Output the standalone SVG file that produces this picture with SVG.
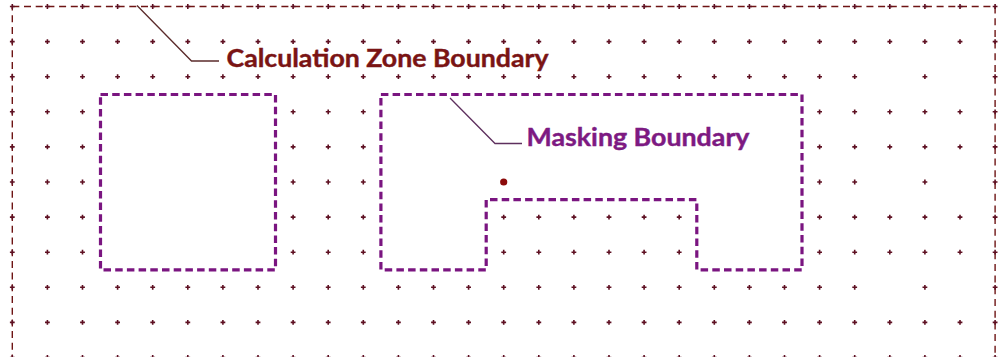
<svg xmlns="http://www.w3.org/2000/svg" xmlns:xlink="http://www.w3.org/1999/xlink" width="1002" height="357" viewBox="0 0 1002 357">
<style>
.cz{fill:none;stroke:#6e1414;stroke-width:1.4;stroke-dasharray:7 4.7}
.mask{fill:none;stroke:#7a1580;stroke-width:3.2;stroke-dasharray:7.5 4.2}
.pt{stroke:#5e1022;stroke-width:1.6;fill:none}
.lead{fill:none;stroke-width:1.3}
.lbl{font-family:Lato,"Open Sans","Liberation Sans",sans-serif;font-weight:bold;font-size:24px;stroke-width:0.4}
</style>
<defs>
<path id="c" class="pt" d="M-2.4,0H2.4M0,-2.4V2.4"/>
</defs>
<rect width="1002" height="357" fill="#fff"/>
<g id="calc-zone">
<rect class="cz" x="12.3" y="6.5" width="982.8" height="353"/>
</g>
<g id="grid">
<g transform="translate(0,6.5)">
<use href="#c" x="12.3"/><use href="#c" x="47.4"/><use href="#c" x="82.5"/><use href="#c" x="117.6"/><use href="#c" x="152.7"/><use href="#c" x="187.8"/><use href="#c" x="222.9"/><use href="#c" x="258"/><use href="#c" x="293.1"/><use href="#c" x="328.2"/><use href="#c" x="363.3"/><use href="#c" x="398.4"/><use href="#c" x="433.5"/><use href="#c" x="468.6"/><use href="#c" x="503.7"/><use href="#c" x="538.8"/><use href="#c" x="573.9"/><use href="#c" x="609"/><use href="#c" x="644.1"/><use href="#c" x="679.2"/><use href="#c" x="714.3"/><use href="#c" x="749.4"/><use href="#c" x="784.5"/><use href="#c" x="819.6"/><use href="#c" x="854.7"/><use href="#c" x="889.8"/><use href="#c" x="924.9"/><use href="#c" x="960"/><use href="#c" x="995.1"/>
</g>
<g transform="translate(0,41.6)">
<use href="#c" x="12.3"/><use href="#c" x="47.4"/><use href="#c" x="82.5"/><use href="#c" x="117.6"/><use href="#c" x="152.7"/><use href="#c" x="187.8"/><use href="#c" x="222.9"/><use href="#c" x="258"/><use href="#c" x="293.1"/><use href="#c" x="328.2"/><use href="#c" x="363.3"/><use href="#c" x="398.4"/><use href="#c" x="433.5"/><use href="#c" x="468.6"/><use href="#c" x="503.7"/><use href="#c" x="538.8"/><use href="#c" x="573.9"/><use href="#c" x="609"/><use href="#c" x="644.1"/><use href="#c" x="679.2"/><use href="#c" x="714.3"/><use href="#c" x="749.4"/><use href="#c" x="784.5"/><use href="#c" x="819.6"/><use href="#c" x="854.7"/><use href="#c" x="889.8"/><use href="#c" x="924.9"/><use href="#c" x="960"/><use href="#c" x="995.1"/>
</g>
<g transform="translate(0,76.7)">
<use href="#c" x="12.3"/><use href="#c" x="47.4"/><use href="#c" x="82.5"/><use href="#c" x="117.6"/><use href="#c" x="152.7"/><use href="#c" x="187.8"/><use href="#c" x="222.9"/><use href="#c" x="258"/><use href="#c" x="293.1"/><use href="#c" x="328.2"/><use href="#c" x="363.3"/><use href="#c" x="398.4"/><use href="#c" x="433.5"/><use href="#c" x="468.6"/><use href="#c" x="503.7"/><use href="#c" x="538.8"/><use href="#c" x="573.9"/><use href="#c" x="609"/><use href="#c" x="644.1"/><use href="#c" x="679.2"/><use href="#c" x="714.3"/><use href="#c" x="749.4"/><use href="#c" x="784.5"/><use href="#c" x="819.6"/><use href="#c" x="854.7"/><use href="#c" x="924.9"/><use href="#c" x="995.1"/>
</g>
<g transform="translate(0,111.8)">
<use href="#c" x="12.3"/><use href="#c" x="47.4"/><use href="#c" x="82.5"/><use href="#c" x="293.1"/><use href="#c" x="328.2"/><use href="#c" x="363.3"/><use href="#c" x="819.6"/><use href="#c" x="854.7"/><use href="#c" x="889.8"/><use href="#c" x="924.9"/><use href="#c" x="960"/><use href="#c" x="995.1"/>
</g>
<g transform="translate(0,146.9)">
<use href="#c" x="12.3"/><use href="#c" x="47.4"/><use href="#c" x="82.5"/><use href="#c" x="293.1"/><use href="#c" x="328.2"/><use href="#c" x="363.3"/><use href="#c" x="819.6"/><use href="#c" x="854.7"/><use href="#c" x="889.8"/><use href="#c" x="924.9"/><use href="#c" x="960"/><use href="#c" x="995.1"/>
</g>
<g transform="translate(0,182)">
<use href="#c" x="12.3"/><use href="#c" x="47.4"/><use href="#c" x="82.5"/><use href="#c" x="293.1"/><use href="#c" x="328.2"/><use href="#c" x="363.3"/><use href="#c" x="819.6"/><use href="#c" x="854.7"/><use href="#c" x="924.9"/><use href="#c" x="995.1"/>
</g>
<g transform="translate(0,217.1)">
<use href="#c" x="12.3"/><use href="#c" x="47.4"/><use href="#c" x="82.5"/><use href="#c" x="293.1"/><use href="#c" x="328.2"/><use href="#c" x="363.3"/><use href="#c" x="503.7"/><use href="#c" x="538.8"/><use href="#c" x="573.9"/><use href="#c" x="609"/><use href="#c" x="644.1"/><use href="#c" x="679.2"/><use href="#c" x="819.6"/><use href="#c" x="854.7"/><use href="#c" x="889.8"/><use href="#c" x="924.9"/><use href="#c" x="960"/><use href="#c" x="995.1"/>
</g>
<g transform="translate(0,252.2)">
<use href="#c" x="12.3"/><use href="#c" x="47.4"/><use href="#c" x="82.5"/><use href="#c" x="293.1"/><use href="#c" x="328.2"/><use href="#c" x="363.3"/><use href="#c" x="503.7"/><use href="#c" x="538.8"/><use href="#c" x="573.9"/><use href="#c" x="609"/><use href="#c" x="644.1"/><use href="#c" x="679.2"/><use href="#c" x="819.6"/><use href="#c" x="854.7"/><use href="#c" x="889.8"/><use href="#c" x="924.9"/><use href="#c" x="960"/><use href="#c" x="995.1"/>
</g>
<g transform="translate(0,287.3)">
<use href="#c" x="12.3"/><use href="#c" x="47.4"/><use href="#c" x="82.5"/><use href="#c" x="117.6"/><use href="#c" x="152.7"/><use href="#c" x="187.8"/><use href="#c" x="222.9"/><use href="#c" x="258"/><use href="#c" x="293.1"/><use href="#c" x="328.2"/><use href="#c" x="363.3"/><use href="#c" x="398.4"/><use href="#c" x="433.5"/><use href="#c" x="468.6"/><use href="#c" x="503.7"/><use href="#c" x="538.8"/><use href="#c" x="573.9"/><use href="#c" x="609"/><use href="#c" x="644.1"/><use href="#c" x="679.2"/><use href="#c" x="714.3"/><use href="#c" x="749.4"/><use href="#c" x="784.5"/><use href="#c" x="819.6"/><use href="#c" x="854.7"/><use href="#c" x="924.9"/><use href="#c" x="995.1"/>
</g>
<g transform="translate(0,322.4)">
<use href="#c" x="12.3"/><use href="#c" x="47.4"/><use href="#c" x="82.5"/><use href="#c" x="117.6"/><use href="#c" x="152.7"/><use href="#c" x="187.8"/><use href="#c" x="222.9"/><use href="#c" x="258"/><use href="#c" x="293.1"/><use href="#c" x="328.2"/><use href="#c" x="363.3"/><use href="#c" x="398.4"/><use href="#c" x="433.5"/><use href="#c" x="468.6"/><use href="#c" x="503.7"/><use href="#c" x="538.8"/><use href="#c" x="573.9"/><use href="#c" x="609"/><use href="#c" x="644.1"/><use href="#c" x="679.2"/><use href="#c" x="714.3"/><use href="#c" x="749.4"/><use href="#c" x="784.5"/><use href="#c" x="819.6"/><use href="#c" x="854.7"/><use href="#c" x="889.8"/><use href="#c" x="924.9"/><use href="#c" x="960"/><use href="#c" x="995.1"/>
</g>
<g transform="translate(0,357.5)">
<use href="#c" x="12.3"/><use href="#c" x="47.4"/><use href="#c" x="82.5"/><use href="#c" x="117.6"/><use href="#c" x="152.7"/><use href="#c" x="187.8"/><use href="#c" x="222.9"/><use href="#c" x="258"/><use href="#c" x="293.1"/><use href="#c" x="328.2"/><use href="#c" x="363.3"/><use href="#c" x="398.4"/><use href="#c" x="433.5"/><use href="#c" x="468.6"/><use href="#c" x="503.7"/><use href="#c" x="538.8"/><use href="#c" x="573.9"/><use href="#c" x="609"/><use href="#c" x="644.1"/><use href="#c" x="679.2"/><use href="#c" x="714.3"/><use href="#c" x="749.4"/><use href="#c" x="784.5"/><use href="#c" x="819.6"/><use href="#c" x="854.7"/><use href="#c" x="889.8"/><use href="#c" x="924.9"/><use href="#c" x="960"/><use href="#c" x="995.1"/>
</g>
</g>
<g id="mask-1">
<rect class="mask" x="100.5" y="94.5" width="175" height="175.3"/>
</g>
<g id="mask-2">
<path class="mask" d="M380.9,94.5H802V269.8H696.8V199.6H486.2V269.8H380.9Z"/>
</g>
<g id="point">
<circle cx="503.7" cy="182" r="3.6" fill="#8b0a0a"/>
</g>
<g id="connectors">
<path class="lead" stroke="#5b2b2b" d="M137,5.5L191.5,61H219"/>
<path class="lead" stroke="#5e305e" d="M450,98L495,143.5H522"/>
</g>
<g id="labels">
<text class="lbl" x="226.5" y="67" fill="#7a1414" stroke="#7a1414" textLength="322" lengthAdjust="spacingAndGlyphs">Calculation Zone Boundary</text>
<text class="lbl" x="526.5" y="146" fill="#7d1a82" stroke="#7d1a82" textLength="223" lengthAdjust="spacingAndGlyphs">Masking Boundary</text>
</g>
</svg>
